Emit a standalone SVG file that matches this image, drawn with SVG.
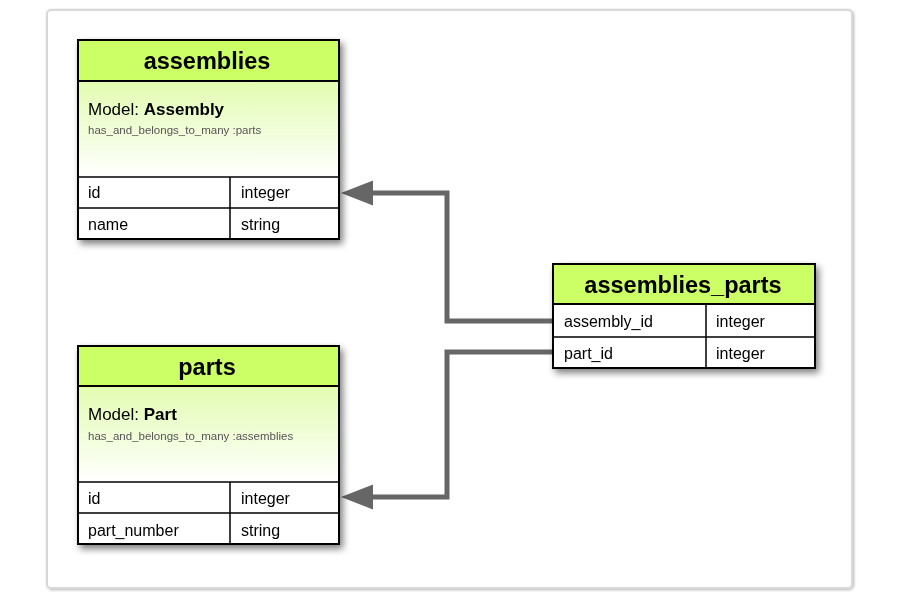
<svg xmlns="http://www.w3.org/2000/svg" width="900" height="600" viewBox="0 0 900 600">
<defs>
<filter id="sh" x="-10%" y="-10%" width="125%" height="130%">
<feGaussianBlur in="SourceAlpha" stdDeviation="3.5"/>
<feOffset dx="3" dy="4" result="b"/>
<feComponentTransfer><feFuncA type="linear" slope="0.5"/></feComponentTransfer>
<feMerge><feMergeNode/><feMergeNode in="SourceGraphic"/></feMerge>
</filter>
<filter id="fsh" x="-2%" y="-2%" width="104%" height="104%">
<feGaussianBlur in="SourceAlpha" stdDeviation="1.5"/>
<feOffset dx="1" dy="1"/>
<feComponentTransfer><feFuncA type="linear" slope="0.3"/></feComponentTransfer>
<feMerge><feMergeNode/><feMergeNode in="SourceGraphic"/></feMerge>
</filter>
<linearGradient id="mg" x1="0" y1="0" x2="0" y2="1">
<stop offset="0" stop-color="#e2fcb0"/>
<stop offset="1" stop-color="#ffffff"/>
</linearGradient>
<style>
.frame{fill:#fff;stroke:#d8d8d8;stroke-width:2}
.hdr{fill:#ccff66;stroke:#000;stroke-width:2}
.box{fill:#fff;stroke:#000;stroke-width:2}
.line{stroke:#000;stroke-width:1.5}
.title{font-family:"Liberation Sans",Arial,sans-serif;font-weight:bold;font-size:23.5px;fill:#000;text-anchor:middle}
.model{font-family:"Liberation Sans",Arial,sans-serif;font-size:17px;fill:#000}
.model tspan.b{font-weight:bold}
.note{font-family:"Liberation Sans",Arial,sans-serif;font-size:11.5px;fill:#555}
.cell{font-family:"Liberation Sans",Arial,sans-serif;font-size:16px;fill:#000}
.conn{fill:none;stroke:#666;stroke-width:5}
</style>
</defs>
<rect class="frame" x="47" y="10" width="805" height="578" rx="4" filter="url(#fsh)"/>

<g id="connectors">
<path class="conn" d="M553,321 H447 V193 H372"/>
<path d="M341,193 L373,180.5 L373,205.5 Z" fill="#666"/>
<path class="conn" d="M553,352 H447 V497 H372"/>
<path d="M341,497 L373,484.5 L373,509.5 Z" fill="#666"/>
</g>

<g id="assemblies" filter="url(#sh)">
<rect class="box" x="78" y="40" width="261" height="199"/>
<rect x="78" y="81" width="261" height="96" fill="url(#mg)"/>
<rect class="hdr" x="78" y="40" width="261" height="41"/>
<rect fill="none" stroke="#000" stroke-width="2" x="78" y="40" width="261" height="199"/>
<line class="line" x1="78" y1="177" x2="339" y2="177"/>
<line class="line" x1="78" y1="208" x2="339" y2="208"/>
<line class="line" x1="230" y1="177" x2="230" y2="239"/>
<text class="title" x="207" y="69">assemblies</text>
<text class="model" x="88" y="115">Model: <tspan class="b">Assembly</tspan></text>
<text class="note" x="88" y="134">has_and_belongs_to_many :parts</text>
<text class="cell" x="88" y="198">id</text>
<text class="cell" x="241" y="198">integer</text>
<text class="cell" x="88" y="230">name</text>
<text class="cell" x="241" y="230">string</text>
</g>

<g id="parts" filter="url(#sh)">
<rect class="box" x="78" y="346" width="261" height="198"/>
<rect x="78" y="386" width="261" height="96" fill="url(#mg)"/>
<rect class="hdr" x="78" y="346" width="261" height="40"/>
<rect fill="none" stroke="#000" stroke-width="2" x="78" y="346" width="261" height="198"/>
<line class="line" x1="78" y1="482" x2="339" y2="482"/>
<line class="line" x1="78" y1="513" x2="339" y2="513"/>
<line class="line" x1="230" y1="482" x2="230" y2="544"/>
<text class="title" x="207" y="375">parts</text>
<text class="model" x="88" y="420">Model: <tspan class="b">Part</tspan></text>
<text class="note" x="88" y="440">has_and_belongs_to_many :assemblies</text>
<text class="cell" x="88" y="504">id</text>
<text class="cell" x="241" y="504">integer</text>
<text class="cell" x="88" y="536">part_number</text>
<text class="cell" x="241" y="536">string</text>
</g>

<g id="assemblies_parts" filter="url(#sh)">
<rect class="box" x="553" y="264" width="262" height="104"/>
<rect class="hdr" x="553" y="264" width="262" height="40"/>
<line class="line" x1="553" y1="337" x2="815" y2="337"/>
<line class="line" x1="706" y1="304" x2="706" y2="368"/>
<text class="title" x="683" y="293">assemblies_parts</text>
<text class="cell" x="564" y="327">assembly_id</text>
<text class="cell" x="716" y="327">integer</text>
<text class="cell" x="564" y="359">part_id</text>
<text class="cell" x="716" y="359">integer</text>
</g>
</svg>
